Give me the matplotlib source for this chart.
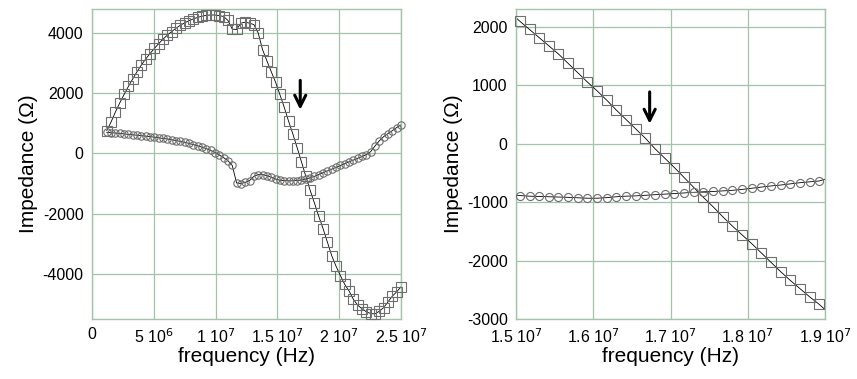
import numpy as np
import matplotlib
matplotlib.use("Agg")
import matplotlib.pyplot as plt

plt.rcParams["font.family"] = ["Liberation Sans", "DejaVu Sans"]
plt.rcParams["axes.unicode_minus"] = False

# ─────────────────────────────────────────────
#  DATA
# ─────────────────────────────────────────────
# left panel: wide sweep, frequencies in MHz
wide_f = np.arange(69) * 0.35 + 1.2
wide_sq = [760, 1050, 1380, 1680, 1960, 2230, 2480, 2720, 2940, 3140,
           3320, 3490, 3650, 3800, 3930, 4050, 4160, 4260, 4340, 4410,
           4470, 4520, 4560, 4590, 4600, 4600, 4580, 4550, 4420, 4130,
           4120, 4330, 4360, 4330, 4280, 4000, 3450, 3080, 2720, 2370,
           1960, 1540, 1080, 650, 190, -280, -760, -1220, -1650, -2090,
           -2500, -2950, -3400, -3750, -4060, -4350, -4570, -4850, -5040, -5160,
           -5260, -5320, -5330, -5240, -5120, -4930, -4740, -4600, -4430]
wide_ci = [700, 690, 680, 665, 650, 635, 620, 605, 590, 575,
           560, 540, 520, 500, 480, 455, 430, 400, 370, 335,
           295, 255, 210, 160, 100, 30, -50, -140, -240, -400,
           -980, -1000, -960, -900, -760, -700, -700, -740, -790, -850,
           -890, -900, -910, -910, -900, -880, -850, -810, -760, -700,
           -640, -580, -520, -460, -400, -340, -280, -220, -160, -100,
           -40, 60, 250, 420, 560, 660, 760, 860, 950]

# right panel: zoom around the zero crossing, frequencies in MHz
zoom_f = np.arange(32) * 0.125 + 15.05
zoom_sq = [2090, 1950, 1810, 1670, 1530, 1370, 1210, 1050, 900, 740,
           570, 410, 250, 90, -90, -250, -410, -580, -750, -920,
           -1080, -1250, -1410, -1560, -1710, -1870, -2030, -2190, -2340, -2480,
           -2620, -2750]
zoom_ci = [-890, -900, -905, -910, -915, -920, -928, -935, -935, -925,
           -910, -900, -895, -885, -875, -865, -855, -845, -835, -825,
           -820, -810, -800, -785, -765, -745, -725, -710, -690, -670,
           -655, -640]
# where the thin lines meet the frame
zoom_edge_f = [15.0, 19.0]
zoom_edge_sq = [2150, -2840]
zoom_edge_ci = [-885, -610]

# arrow positions (MHz, ohm)
wide_arrow = (16.85, 2520, 1360)
zoom_arrow = (16.73, 930, 290)

wide_ticks = [0, 5e6, 1e7, 1.5e7, 2e7, 2.5e7]
wide_labels = ["0", "5 10$^{6}$", "1 10$^{7}$", "1.5 10$^{7}$",
               "2 10$^{7}$", "2.5 10$^{7}$"]
zoom_ticks = [1.5e7, 1.6e7, 1.7e7, 1.8e7, 1.9e7]
zoom_labels = ["1.5 10$^{7}$", "1.6 10$^{7}$", "1.7 10$^{7}$",
               "1.8 10$^{7}$", "1.9 10$^{7}$"]

GRID = "#a3c4ab"
EDGE = "#6e6e6e"


def style_axes(ax):
    ax.grid(True, color=GRID, lw=0.9)
    ax.set_axisbelow(True)
    for sp in ax.spines.values():
        sp.set_edgecolor(GRID)
        sp.set_linewidth(1.0)
    ax.tick_params(length=0, labelsize=11.5, pad=6, colors="black")
    ax.set_xlabel("frequency (Hz)", fontsize=15, labelpad=1)
    ax.set_ylabel("Impedance (\u03a9)", fontsize=15, labelpad=3)


def draw_series(ax, f, y, marker, ms, line_f=None, line_y=None):
    if line_f is None:
        line_f, line_y = f, y
    ax.plot(line_f, line_y, color="black", lw=0.6, zorder=2)
    ax.plot(f, y, ls="none", marker=marker, ms=ms, mfc="none",
            mec=EDGE, mew=0.8, zorder=3, clip_on=False)


def draw_arrow(ax, x, y0, y1):
    ax.annotate("", xy=(x, y1), xytext=(x, y0),
                arrowprops=dict(arrowstyle="->,head_length=0.8,head_width=0.4",
                                color="black", lw=2.2))


fig = plt.figure(figsize=(8.57, 3.79), dpi=100)

# left panel
ax1 = fig.add_axes([0.1073, 0.1583, 0.3606, 0.818])
wf = wide_f * 1e6
draw_series(ax1, wf, wide_sq, "s", 6.8)
draw_series(ax1, wf, wide_ci, "o", 5.3)
draw_arrow(ax1, wide_arrow[0] * 1e6, wide_arrow[1], wide_arrow[2])
ax1.set_xlim(0, 2.5e7)
ax1.set_ylim(-5500, 4800)
ax1.set_xticks(wide_ticks)
ax1.set_xticklabels(wide_labels)
ax1.set_yticks([-4000, -2000, 0, 2000, 4000])
style_axes(ax1)

# right panel
ax2 = fig.add_axes([0.6021, 0.1583, 0.3606, 0.818])
zf = zoom_f * 1e6
ef = np.array(zoom_edge_f) * 1e6
draw_series(ax2, zf, zoom_sq, "s", 7.0,
            np.concatenate([[ef[0]], zf, [ef[1]]]),
            [zoom_edge_sq[0]] + zoom_sq + [zoom_edge_sq[1]])
draw_series(ax2, zf, zoom_ci, "o", 5.8,
            np.concatenate([[ef[0]], zf, [ef[1]]]),
            [zoom_edge_ci[0]] + zoom_ci + [zoom_edge_ci[1]])
draw_arrow(ax2, zoom_arrow[0] * 1e6, zoom_arrow[1], zoom_arrow[2])
ax2.set_xlim(1.5e7, 1.9e7)
ax2.set_ylim(-3000, 2300)
ax2.set_xticks(zoom_ticks)
ax2.set_xticklabels(zoom_labels)
ax2.set_yticks([-3000, -2000, -1000, 0, 1000, 2000])
style_axes(ax2)

fig.savefig("out.png", dpi=100)
